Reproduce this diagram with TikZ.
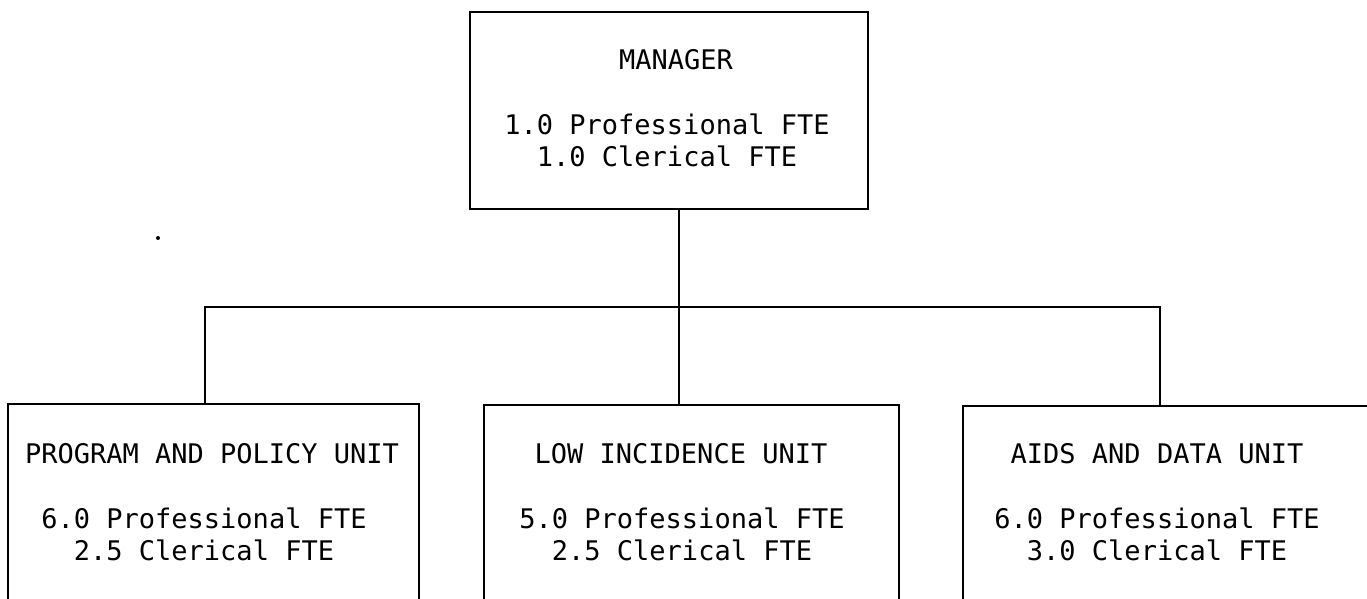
\documentclass[tikz,border=0pt]{standalone}
\usepackage{fontspec}
\newfontfamily\typew{DejaVu Sans Mono}
\begin{document}
\begin{tikzpicture}[x=1pt,y=1pt,
  unitbox/.style={draw=black, line width=2pt, rectangle, inner sep=0pt},
  label/.style={font=\typew\fontsize{27}{32}\selectfont, anchor=base, inner sep=0pt},
  conn/.style={draw=black, line width=2pt}]
\useasboundingbox (0,0) rectangle (1367,598);
\clip (0,0) rectangle (1367,598);
% boxes
\node[unitbox, minimum width=398pt, minimum height=197pt] (mgr) at (669,487.5) {};
\node[unitbox, minimum width=411pt, minimum height=234pt] (ppu) at (213.5,77) {};
\node[unitbox, minimum width=415pt, minimum height=233pt] (low) at (691.5,76.5) {};
\node[unitbox, minimum width=437pt, minimum height=232pt] (ads) at (1181.5,76) {};
% junctions
\coordinate (jl) at (205,291);
\coordinate (jm) at (679,291);
\coordinate (jr) at (1160,291);
% connectors
\draw[conn] (jm |- mgr.south) -- (jm |- low.north);
\draw[conn] (jl |- ppu.north) -- (jl) -- (jr) -- (jr |- ads.north);
% texts
\node[label] (mgrt) at (676,528) {MANAGER};
\node[label] (mgrp) at (667,463) {1.0 Professional FTE};
\node[label] (mgrc) at (667,431) {1.0 Clerical FTE};
\node[label] (ppt) at (212,135) {PROGRAM AND POLICY UNIT};
\node[label] (ppp) at (204,70) {6.0 Professional FTE};
\node[label] (ppc) at (204,38) {2.5 Clerical FTE};
\node[label] (lit) at (681,135) {LOW INCIDENCE UNIT};
\node[label] (lip) at (682,70) {5.0 Professional FTE};
\node[label] (lic) at (682,38) {2.5 Clerical FTE};
\node[label] (adt) at (1157,135) {AIDS AND DATA UNIT};
\node[label] (adp) at (1157,70) {6.0 Professional FTE};
\node[label] (adc) at (1157,38) {3.0 Clerical FTE};
% speck
\fill[black] (158,360) circle (2pt);
\end{tikzpicture}
\end{document}
